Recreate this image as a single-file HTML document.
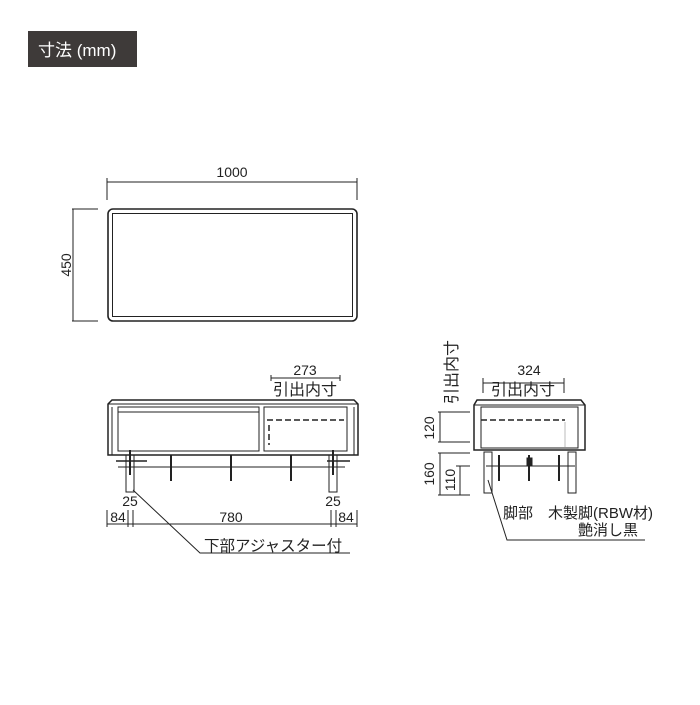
<!DOCTYPE html><html><head><meta charset="utf-8"><style>
body{margin:0;background:#fff;width:700px;height:700px;overflow:hidden}
text{font-family:"Liberation Sans","Noto Sans CJK JP",sans-serif;fill:#222}
</style></head><body>
<svg width="700" height="700" viewBox="0 0 700 700" xmlns="http://www.w3.org/2000/svg">
<rect x="28" y="31" width="109" height="36" fill="#3e3a39"/>
<text x="38" y="56" font-size="17" style="fill:#fff">寸法 (mm)</text>
<g stroke="#222" fill="none" stroke-width="1">
<rect x="108" y="209" width="249" height="112" rx="5" stroke-width="1.6"/>
<rect x="112.5" y="213.5" width="240" height="103" stroke-width="1"/>
<line x1="107" y1="182" x2="357" y2="182"/><line x1="107" y1="178" x2="107" y2="200"/><line x1="357" y1="178" x2="357" y2="200"/>
<line x1="73" y1="209" x2="73" y2="321"/><line x1="72" y1="209" x2="98" y2="209"/><line x1="72" y1="321" x2="98" y2="321"/>
<path d="M112 400 L354 400 L358 404 L358 455 L108 455 L108 404 Z" stroke-width="1.5"/>
<line x1="108" y1="404" x2="358" y2="404"/>
<rect x="118" y="407" width="141" height="44"/>
<line x1="118" y1="412" x2="259" y2="412"/>
<rect x="264" y="407" width="83" height="44"/>
<line x1="112" y1="407" x2="112" y2="455"/><line x1="354" y1="407" x2="354" y2="455"/>
<path d="M267 420 H344 M269 425 V445" stroke-dasharray="6,3" stroke-width="1.5"/>
<line x1="118" y1="467" x2="345" y2="467"/>
<line x1="116" y1="461" x2="147" y2="461" stroke-width="1.5"/><line x1="327" y1="461" x2="350" y2="461" stroke-width="1.5"/>
<rect x="126" y="455" width="8" height="37"/><rect x="329" y="455" width="8" height="37"/>
<path d="M171 455 V481 M231 455 V481 M291 455 V481 M130 450 V475 M333 450 V475" stroke-width="2"/>
<line x1="271" y1="378" x2="340" y2="378"/><line x1="271" y1="375" x2="271" y2="381"/><line x1="340" y1="375" x2="340" y2="381"/>
<line x1="107" y1="524" x2="357" y2="524"/>
<path d="M107 510 V527 M128 510 V527 M133 510 V527 M331 510 V527 M336 510 V527 M357 510 V527"/>
<polyline points="133,490 200,553 350,553"/>
<path d="M477 400 L581 400 L585 405 L585 450 L474 450 L474 405 Z" stroke-width="1.5"/>
<line x1="474" y1="405" x2="585" y2="405"/>
<rect x="481" y="407" width="97" height="41"/>
<path d="M481 420 H565" stroke-dasharray="6,3" stroke-width="1.5"/>
<line x1="565" y1="422" x2="565" y2="447" stroke="#bbb"/>
<line x1="486" y1="466" x2="575" y2="466"/>
<rect x="484" y="452" width="8" height="41"/><rect x="568" y="452" width="8" height="41"/>
<path d="M499 455 V481 M529 455 V481 M559 455 V481" stroke-width="2"/>
<rect x="527" y="458" width="5" height="8" fill="#222"/>
<line x1="483" y1="383" x2="564" y2="383"/><line x1="483" y1="378" x2="483" y2="393"/><line x1="564" y1="378" x2="564" y2="393"/>
<path d="M438 412 H470 M438 442 H470 M438 453 H470 M438 495 H470 M440 412 V442 M440 453 V495 M460 466 V495 M456 466 H470"/>
<polyline points="488,480 507,540 645,540"/>
</g>
<g font-size="14">
<text x="232" y="177" text-anchor="middle">1000</text>
<text transform="translate(71,265) rotate(-90)" text-anchor="middle">450</text>
<text x="305" y="375" text-anchor="middle">273</text>
<text x="305" y="395" text-anchor="middle" font-size="16">引出内寸</text>
<text x="130" y="506" text-anchor="middle">25</text>
<text x="333" y="506" text-anchor="middle">25</text>
<text x="118" y="522" text-anchor="middle">84</text>
<text x="231" y="522" text-anchor="middle">780</text>
<text x="346" y="522" text-anchor="middle">84</text>
<text x="204" y="551" font-size="15.5">下部アジャスター付</text>
<text x="529" y="375" text-anchor="middle">324</text>
<text x="523" y="395" text-anchor="middle" font-size="16">引出内寸</text>
<text transform="translate(457,372) rotate(-90)" text-anchor="middle" font-size="16">引出内寸</text>
<text transform="translate(434,428) rotate(-90)" text-anchor="middle">120</text>
<text transform="translate(434,474) rotate(-90)" text-anchor="middle">160</text>
<text transform="translate(455,480) rotate(-90)" text-anchor="middle">110</text>
<text x="503" y="518" font-size="15">脚部</text>
<text x="548" y="518" font-size="15">木製脚(RBW材)</text>
<text x="578" y="535" font-size="15">艶消し黒</text>
</g>
</svg></body></html>
